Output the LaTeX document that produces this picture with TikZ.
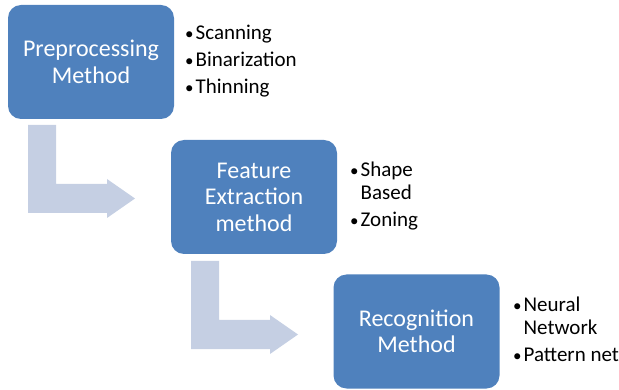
\documentclass[tikz,border=0pt]{standalone}
\usepackage{fontspec}
\setmainfont{Carlito}
\definecolor{boxblue}{HTML}{4F81BD}
\definecolor{arrowgray}{HTML}{C5CFE3}
\tikzset{
  stagebox/.style={fill=boxblue, rounded corners=13pt, minimum width=166pt, minimum height=114pt, inner sep=0pt, text=white, align=center, font=\fontsize{24}{26.5}\selectfont},
  bendarrow/.style={fill=arrowgray, draw=none},
  bullettext/.style={anchor=base west, inner sep=0pt, font=\fontsize{21}{23}\selectfont}
}
\newcommand{\smbul}{{\fontsize{17}{17}\selectfont\textbullet}}
\begin{document}
\begin{tikzpicture}[x=1pt,y=-1pt]
\useasboundingbox (0,0) rectangle (619,390);
% bent arrows
\fill[bendarrow] (28,125) -- (56,125) -- (56,184) -- (107,184) -- (107,179) -- (135,198.5) -- (107,218) -- (107,213) -- (28,213) -- cycle;
\fill[bendarrow] (191,261) -- (219,261) -- (219,320) -- (270,320) -- (270,315) -- (298,334.5) -- (270,354) -- (270,349) -- (191,349) -- cycle;
% boxes
\node[stagebox] (pre) at (91,62) {Preprocessing\\Method};
\node[stagebox] (feat) at (254,197) {Feature\\Extraction\\method};
\node[stagebox] (rec) at (416.5,331.5) {Recognition\\Method};
% bullet lists
\node[bullettext] (l1) at (185,40) {\begin{tabular}[t]{@{}l@{\hspace{2pt}}l@{}}\smbul & Scanning\\[4pt] \smbul & Binarization\\[4pt] \smbul & Thinning\end{tabular}};
\node[bullettext] (l2) at (350,177) {\begin{tabular}[t]{@{}l@{\hspace{2pt}}l@{}}\smbul & Shape\\ & Based\\[4pt] \smbul & Zoning\end{tabular}};
\node[bullettext] (l3) at (513,312) {\begin{tabular}[t]{@{}l@{\hspace{2pt}}l@{}}\smbul & Neural\\ & Network\\[4pt] \smbul & Pattern net\end{tabular}};
\end{tikzpicture}
\end{document}
